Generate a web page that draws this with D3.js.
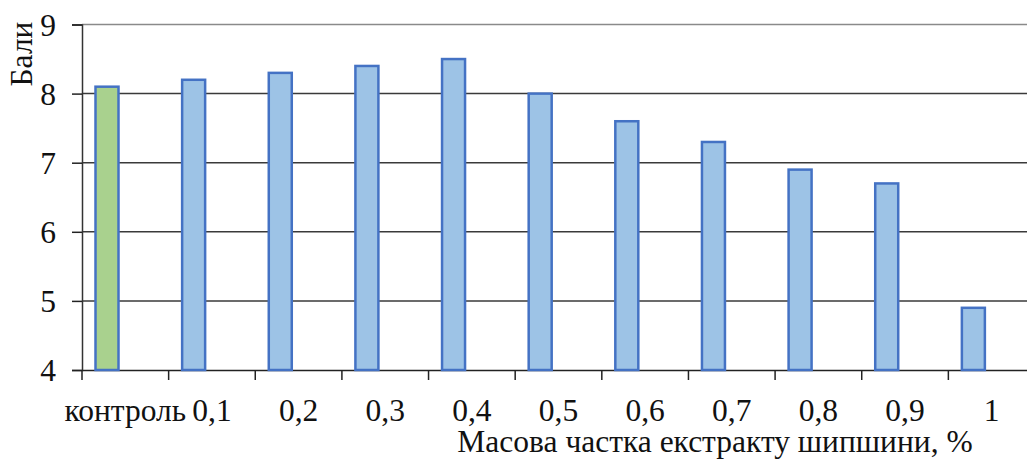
<!DOCTYPE html>
<html><head><meta charset="utf-8">
<script src="https://cdn.jsdelivr.net/npm/d3@7"></script>
<style>body{margin:0;background:#fff}svg{display:block}</style>
</head><body><svg id="c" width="1027" height="459"></svg>
<script>
const categories = ["контроль","0,1","0,2","0,3","0,4","0,5","0,6","0,7","0,8","0,9","1"];
const values = [8.1,8.2,8.3,8.4,8.5,8.0,7.6,7.3,6.9,6.7,4.9];
const yTicks = [4,5,6,7,8,9];
const yTitle = "Бали";
const xTitle = "Масова частка екстракту шипшини, %";

(function(){
const FF = "Liberation Serif";
const FS = 31.5;
const svg = d3.select("#c");
const pL = 82, pR = 1035, pT = 24.5, pB = 370;
const x = d3.scaleBand().domain(categories).range([pL,pR]).padding(0);
const y = d3.scaleLinear().domain([4,9]).range([pB,pT]);

// gridlines
svg.append("g").selectAll("line").data(yTicks.filter(d=>d>4)).join("line")
  .attr("x1",pL).attr("x2",pR).attr("y1",d=>y(d)).attr("y2",d=>y(d))
  .attr("stroke",d=>d===9?"#8a8a8a":"#3a3a3a").attr("stroke-width",1.5);

// y axis
const ya = svg.append("g").attr("transform",`translate(${pL},0)`)
  .call(d3.axisLeft(y).tickValues(yTicks).tickSize(10).tickPadding(16).tickFormat(d3.format("d")));
ya.attr("font-family",FF).attr("font-size",FS);
ya.select(".domain").attr("stroke","#333").attr("stroke-width",1.5);
ya.selectAll(".tick line").attr("stroke","#222").attr("stroke-width",1.5);
ya.selectAll("text").attr("font-family",FF).attr("font-size",FS).attr("fill","#111").attr("dy","0.34em");

// x axis
const xa = svg.append("g").attr("transform",`translate(0,${pB})`)
  .call(d3.axisBottom(x).tickSize(0).tickPadding(51));
xa.attr("font-family",FF).attr("font-size",FS);
xa.select(".domain").attr("stroke","#222").attr("stroke-width",1.5);
xa.selectAll("text").attr("font-family",FF).attr("font-size",FS).attr("fill","#111").attr("dy","0");
// boundary ticks between categories
const bounds = categories.map(c=>x(c));
svg.append("g").selectAll("line").data(bounds).join("line")
  .attr("x1",d=>d).attr("x2",d=>d).attr("y1",pB).attr("y2",pB+10)
  .attr("stroke","#222").attr("stroke-width",1.5);

// bars (first slot of a clustered group)
const bw = 23, off = 13.5;
svg.append("g").selectAll("rect").data(values).join("rect")
  .attr("x",(d,i)=>x(categories[i])+off)
  .attr("width",bw)
  .attr("y",d=>y(d))
  .attr("height",d=>y(4)-y(d))
  .attr("fill",(d,i)=>i===0?"#A9D18E":"#9DC3E6")
  .attr("stroke","#4472C4").attr("stroke-width",2.5);

// titles
svg.append("text").attr("transform","translate(32,54) rotate(-90)")
  .attr("font-family",FF).attr("fill","#111")
  .attr("text-anchor","middle").attr("font-size",FS).text(yTitle);
svg.append("text").attr("x",715).attr("y",452).attr("text-anchor","middle")
  .attr("font-family",FF).attr("fill","#111")
  .attr("font-size",FS).text(xTitle);
})();
</script></body></html>
